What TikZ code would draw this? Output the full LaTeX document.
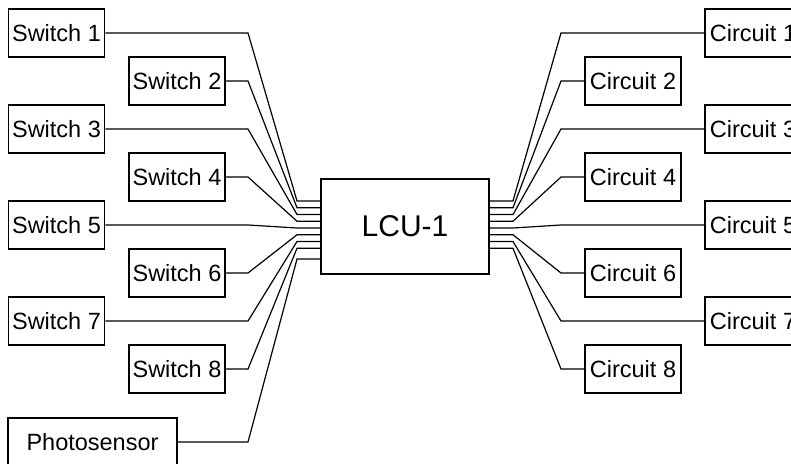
\documentclass[tikz,border=0pt]{standalone}
\usepackage{fontspec}
\setmainfont{Liberation Sans}
\usetikzlibrary{calc}

\begin{document}
\begin{tikzpicture}[x=1pt, y=-1pt,
    unit/.style={draw, line width=1.6pt, minimum width=96pt, minimum height=48pt, inner sep=0pt, font=\fontsize{23.5}{28}\selectfont},
    wire/.style={line width=1.2pt}]
    \useasboundingbox (0,0) rectangle (791,463);
    \node[unit, minimum width=168pt, minimum height=95pt, font=\fontsize{30}{36}\selectfont] (lcu) at (405,226.5) {LCU-1};
    % inputs
    \node[unit] (sw1) at (56.5,33) {Switch 1};
    \node[unit] (sw2) at (177,81) {Switch 2};
    \node[unit] (sw3) at (56.5,129) {Switch 3};
    \node[unit] (sw4) at (177,177) {Switch 4};
    \node[unit] (sw5) at (56.5,225) {Switch 5};
    \node[unit] (sw6) at (177,273) {Switch 6};
    \node[unit] (sw7) at (56.5,321) {Switch 7};
    \node[unit] (sw8) at (177,369) {Switch 8};
    \node[unit, minimum width=169pt] (photo) at (92.5,442) {Photosensor};
    % outputs
    \node[unit] (ci1) at (753,33) {Circuit 1};
    \node[unit] (ci2) at (633,81) {Circuit 2};
    \node[unit] (ci3) at (753,129) {Circuit 3};
    \node[unit] (ci4) at (633,177) {Circuit 4};
    \node[unit] (ci5) at (753,225) {Circuit 5};
    \node[unit] (ci6) at (633,273) {Circuit 6};
    \node[unit] (ci7) at (753,321) {Circuit 7};
    \node[unit] (ci8) at (633,369) {Circuit 8};
    % bends and pins
    \coordinate (bendl) at (248,0);
    \coordinate (bendr) at (561,0);
    \foreach \i in {1,...,8} {
        \coordinate (pl\i) at (297,{201+6.75*(\i-1)});
        \coordinate (pr\i) at (513,{201+6.75*(\i-1)});
        \draw[wire] (sw\i.east) -- (sw\i.east -| bendl) -- (pl\i) -- (pl\i -| lcu.west);
        \draw[wire] (pr\i -| lcu.east) -- (pr\i) -- (ci\i.west -| bendr) -- (ci\i.west);
    }
    \coordinate (pl9) at (297,259);
    \draw[wire] (photo.east) -- (photo.east -| bendl) -- (pl9) -- (pl9 -| lcu.west);
\end{tikzpicture}
\end{document}
